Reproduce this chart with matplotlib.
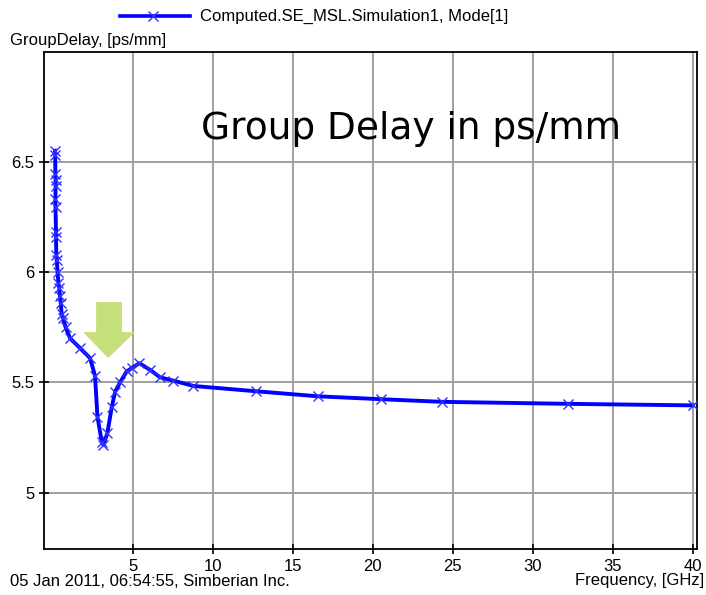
import matplotlib
matplotlib.use('Agg')
import matplotlib.pyplot as plt
from matplotlib.patches import Polygon

# group delay curve
freq_ghz = [0.14, 0.15, 0.16, 0.17, 0.18, 0.16, 0.17, 0.2, 0.2, 0.22, 0.25, 0.3,
            0.35, 0.4, 0.45, 0.5, 0.55, 0.65, 0.8, 1.08, 1.7, 2.33, 2.64, 2.79,
            3.06, 3.16, 3.41, 3.69, 3.9, 4.2, 4.62, 4.93, 5.41, 6.08, 6.71,
            7.54, 8.79, 12.7, 16.6, 20.5, 24.35, 32.2, 40.0]
delay = [6.55, 6.53, 6.447, 6.416, 6.39, 6.33, 6.295, 6.18, 6.16, 6.077, 6.054,
         6.0, 5.949, 5.93, 5.89, 5.86, 5.81, 5.79, 5.75, 5.70, 5.656, 5.61, 5.53,
         5.345, 5.232, 5.217, 5.27, 5.39, 5.458, 5.50, 5.55, 5.565, 5.587, 5.557,
         5.523, 5.508, 5.484, 5.46, 5.437, 5.424, 5.412, 5.403, 5.396]

x_ticks = [5, 10, 15, 20, 25, 30, 35, 40]
y_ticks = [5, 5.5, 6, 6.5]

series_name = 'Computed.SE_MSL.Simulation1, Mode[1]'
y_title = 'GroupDelay, [ps/mm]'
x_title = 'Frequency, [GHz]'
footer = '05 Jan 2011, 06:54:55, Simberian Inc.'
note = 'Group Delay in ps/mm'

W, H = 706, 595
fig = plt.figure(figsize=(W / 100, H / 100), dpi=100)
ax = fig.add_axes([44 / W, 1 - 549 / H, (697 - 44) / W, (549 - 51.5) / H])

ax.plot(freq_ghz, delay, color='#0000ff', lw=2.8, marker='x', ms=7,
        mew=1.0, mec='#3030ff', zorder=3)

ax.set_xlim(-0.55, 40.27)
ax.set_ylim(4.745, 7.0)
ax.set_xticks(x_ticks)
ax.set_yticks(y_ticks)
ax.set_xticklabels([str(t) for t in x_ticks])
ax.set_yticklabels(['5', '5.5', '6', '6.5'])
ax.grid(True, color='#a0a0a0', lw=1.4)
ax.set_axisbelow(True)
ax.tick_params(direction='inout', length=7, width=1.2, labelsize=12,
               colors='black')
for lbl in ax.get_xticklabels() + ax.get_yticklabels():
    lbl.set_fontfamily('Liberation Sans')
for sp in ax.spines.values():
    sp.set_linewidth(1.3)

# green arrow pointing at the dip
arrow = Polygon([(2.71, 5.864), (4.33, 5.864), (4.33, 5.728), (5.14, 5.728),
                 (3.46, 5.611), (1.89, 5.728), (2.71, 5.728)],
                closed=True, facecolor='#c5e07a', edgecolor='none', zorder=4)
ax.add_patch(arrow)

ax.text(0.240, 0.845, note, transform=ax.transAxes, fontsize=27,
        family='DejaVu Sans', ha='left', va='center')

# legend row and outer labels
fig.lines.append(plt.Line2D([120 / W, 190 / W], [1 - 16 / H, 1 - 16 / H],
                            color='#0000ff', lw=2.6, transform=fig.transFigure))
fig.lines.append(plt.Line2D([153 / W], [1 - 16 / H], color='#3030ff',
                            marker='x', ms=7, mew=1.0, transform=fig.transFigure))
fig.text(200 / W, 1 - 16 / H, series_name, fontsize=12,
         family='Liberation Sans', va='center', ha='left')
fig.text(10 / W, 1 - 40 / H, y_title, fontsize=12,
         family='Liberation Sans', va='center', ha='left')
fig.text(10 / W, 1 - 581 / H, footer, fontsize=12,
         family='Liberation Sans', va='center', ha='left')
fig.text(704 / W, 1 - 581 / H, x_title, fontsize=12,
         family='Liberation Sans', va='center', ha='right')

fig.savefig('out.png', dpi=100)
